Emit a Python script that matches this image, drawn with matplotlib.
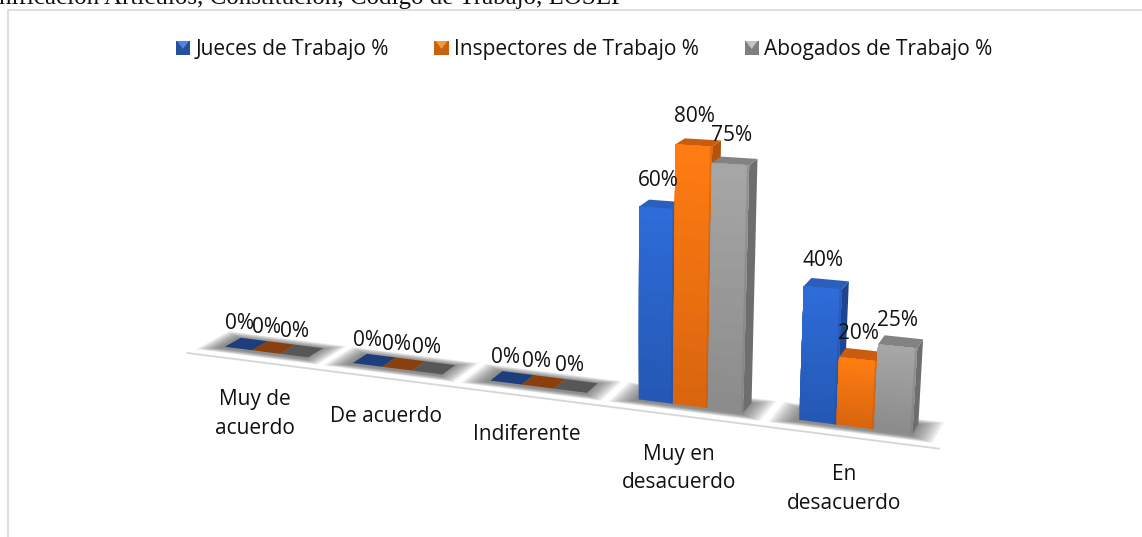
import numpy as np
import matplotlib
matplotlib.use("Agg")
import matplotlib.pyplot as plt
from matplotlib.transforms import Transform
from matplotlib.patches import Patch, Rectangle, Polygon
from matplotlib.legend_handler import HandlerBase

# ---- data -----------------------------------------------------------
categories = ["Muy de\nacuerdo", "De acuerdo", "Indiferente", "Muy en\ndesacuerdo", "En\ndesacuerdo"]
series_names = ["Jueces de Trabajo %", "Inspectores de Trabajo %", "Abogados de Trabajo %"]
jueces = [0, 0, 0, 60, 40]
inspectores = [0, 0, 0, 80, 20]
abogados = [0, 0, 0, 75, 25]
heading = "nificación Artículos, Constitución, Código de Trabajo, LOSEP"

# ---- styles ---------------------------------------------------------
FRONT_TOP = ["#2E6CD8", "#FF7C12", "#A6A6A6"]
FRONT_BOTTOM = ["#2558B4", "#D9650F", "#8C8C8C"]
SIDE = ["#1D4590", "#B5530C", "#6E6E6E"]
TOPFACE = ["#2A5FBE", "#C95C0E", "#828282"]
FLAT = ["#1E3D7C", "#8A3F0F", "#575757"]
LEGEND_C = ["#24509E", "#C8600F", "#7F7F7F"]
LEGEND_L = ["#4C88E0", "#F59A3A", "#C4C4C4"]
FONT = "Open Sans"
FS = 15.0
BAR_W = 0.22
OFFS = [-0.22, 0.0, 0.22]

# ---- oblique chart projection (u = category index, v = percent) ------
C = -0.0355
A, B = 116.9, 266.0
SLOPE, Y0, X0 = 0.1273, 352.0, 266.0
K = 2.91
VX, VY, F = 1320.0, -268.0, 0.0146


def project(u, v, d=0.0):
    u = np.asarray(u, float)
    v = np.asarray(v, float)
    w = 1 + C * u
    x = (A * u + B) / w
    y = Y0 + SLOPE * (x - X0) - K * v / w
    x = x + v * 0.11 * (u - 2.6)
    return x + F * d * (VX - x), y + F * d * (VY - y)


class Projection(Transform):
    input_dims = output_dims = 2
    is_separable = False
    has_inverse = False

    def __init__(self, plane=0.0):
        super().__init__()
        self.plane = plane

    def transform_non_affine(self, values):
        values = np.asarray(values, float)
        x, y = project(values[:, 0], values[:, 1], self.plane)
        return np.column_stack([x, y])


class NotchedSquare(HandlerBase):
    def __init__(self, light):
        super().__init__()
        self.light = light

    def create_artists(self, legend, orig, xd, yd, width, height, fontsize, trans):
        rect = Rectangle((-xd, -yd), width, height, facecolor=orig.get_facecolor(), edgecolor="none", transform=trans)
        tri = Polygon([(-xd + 0.08 * width, -yd + height), (-xd + 0.92 * width, -yd + height),
                       (-xd + 0.5 * width, -yd + 0.45 * height)], facecolor=self.light, edgecolor="none", transform=trans)
        return [rect, tri]


def mix(c1, c2, t):
    a = np.array(matplotlib.colors.to_rgb(c1))
    b = np.array(matplotlib.colors.to_rgb(c2))
    return tuple(a + (b - a) * t)


fig = plt.figure(figsize=(11.42, 5.37), dpi=100)
ax = fig.add_axes([0, 0, 1, 1])
front = Projection(0.0) + ax.transData

# frame and heading
ax.plot([8, 8, 1142], [537, 10, 10], color="#D9D9D9", lw=1.2, zorder=1)
ax.text(-1, -2, heading, family="Liberation Serif", fontsize=18.0, color="#111111", va="center", ha="left")

# baseline
ax.plot([-0.5, 4.51], [0, 0], color="#D6D6D6", lw=1.3, transform=Projection(-1.0) + ax.transData, zorder=1.5)

series = [jueces, inspectores, abogados]
# ground shadows
for i in range(len(categories)):
    left, right = i + OFFS[0] - BAR_W / 2, i + OFFS[2] + BAR_W / 2
    for e in np.linspace(1, 0, 9):
        ul, ur = left - 0.03 - 0.13 * e, right + 0.01 + 0.12 * e
        d0, d1 = -0.2 - 0.35 * e, 1.0 + 0.45 * e
        xf, yf = project([ul, ur], [0, 0], d0)
        xb, yb = project([ur, ul], [0, 0], d1)
        ax.fill(np.r_[xf, xb], np.r_[yf, yb], color="#383838", alpha=0.085, lw=0, zorder=2)

z = 3.0
for i in range(len(categories)):
    for s, vals in enumerate(series):
        v = vals[i]
        u = i + OFFS[s]
        l, r = u - BAR_W / 2, u + BAR_W / 2
        # right side face
        x0, y0 = project([r, r], [0, v], 0)
        x1, y1 = project([r, r], [v, 0], 1)
        if v > 0:
            ax.fill(np.r_[x0, x1], np.r_[y0, y1], color=SIDE[s], lw=0, zorder=z)
        # top face
        x0, y0 = project([l, r], [v, v], 0)
        x1, y1 = project([r, l], [v, v], 1)
        ax.fill(np.r_[x0, x1], np.r_[y0, y1], color=TOPFACE[s] if v > 0 else FLAT[s], lw=0, zorder=z + 0.01)
        # front face with a vertical gradient
        if v > 0:
            n = 14
            for k in range(n):
                ax.bar(u, v * (1 - k / n), BAR_W, bottom=v * k / n, color=mix(FRONT_BOTTOM[s], FRONT_TOP[s], k / (n - 1)),
                       lw=0, transform=front, zorder=z + 0.02 + k * 0.001)
            ax.bar(r - BAR_W * 0.03, v, BAR_W * 0.06, color=mix(FRONT_BOTTOM[s], "#000000", 0.1), lw=0, alpha=0.45,
                   transform=front, zorder=z + 0.05)
        z += 0.1
        # data label
        tx, ty = project(u, v, 0.5)
        ax.annotate(f"{v}%", (float(tx), float(ty)), xytext=(-5 if v == 0 else -2.5, (20 + v * 0.07) * 0.72),
                    textcoords="offset points", ha="center", va="center", family=FONT, fontsize=FS,
                    color="#111111", zorder=20)

# category labels
for i, name in enumerate(categories):
    tx, ty = project(i, 0)
    ax.annotate(name, (float(tx), float(ty)), xytext=(-8, -27), textcoords="offset points",
                ha="center", va="top", family=FONT, fontsize=FS, linespacing=1.47, color="#111111", zorder=20)

handles = [Patch(facecolor=c, edgecolor="none") for c in LEGEND_C]
hmap = {h: NotchedSquare(light) for h, light in zip(handles, LEGEND_L)}
ax.legend(handles, series_names, ncol=3, frameon=False, loc="center", bbox_to_anchor=(584 / 1142, 1 - 50 / 537),
          prop={"family": FONT, "size": FS}, handlelength=0.68, handleheight=0.68, handletextpad=0.25, columnspacing=2.2,
          labelcolor="#111111", borderpad=0, borderaxespad=0, handler_map=hmap)

ax.set_xlim(0, 1142)
ax.set_ylim(537, 0)
ax.axis("off")
fig.savefig("out.png", dpi=100)
